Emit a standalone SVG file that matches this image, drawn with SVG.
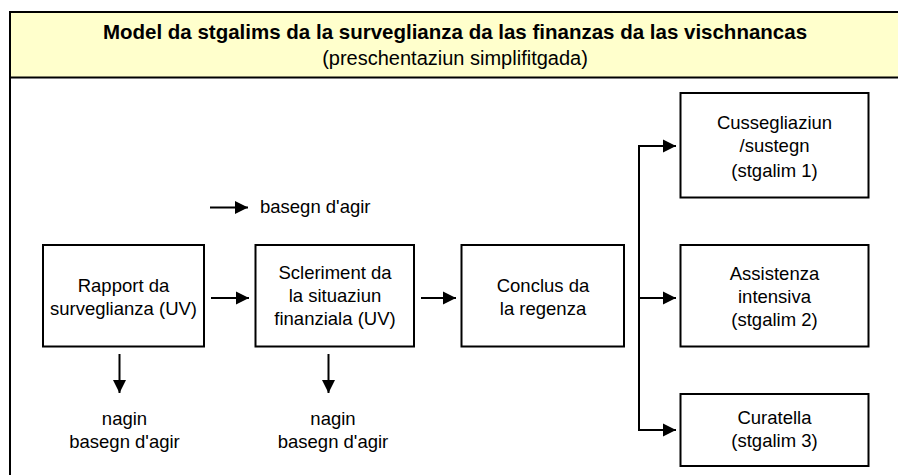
<svg xmlns="http://www.w3.org/2000/svg" width="898" height="475" viewBox="0 0 898 475">
<style>
.frame{fill:none;stroke:#000;stroke-width:2}
.hdr{fill:#FFFFCC;stroke:#000;stroke-width:2}
.box{fill:#fff;stroke:#000;stroke-width:2}
.t{font-family:"Liberation Sans",Arial,sans-serif;font-size:18.5px;fill:#000;text-anchor:middle}
.sub{font-family:"Liberation Sans",Arial,sans-serif;font-size:20px;fill:#000;text-anchor:middle}
.title{font-family:"Liberation Sans",Arial,sans-serif;font-size:20.5px;font-weight:bold;fill:#000;text-anchor:middle}
.c{fill:none;stroke:#000;stroke-width:2}
</style>
<defs>
<marker id="ah" markerUnits="userSpaceOnUse" markerWidth="14" markerHeight="14" viewBox="0 0 14 14" refX="13" refY="7" orient="auto">
<path d="M0,0.5 L13,7 L0,13.5 Z" fill="#000"/>
</marker>
</defs>
<rect width="898" height="475" fill="#fff"/>
<g id="frame">
<rect class="hdr" x="10" y="12" width="900" height="65.5"/>
<line class="frame" x1="10" y1="12" x2="10" y2="480"/>
<text class="title" x="455" y="39">Model da stgalims da la surveglianza da las finanzas da las vischnancas</text>
<text class="sub" x="455" y="65">(preschentaziun simplifitgada)</text>
</g>
<g id="connectors">
<line class="c" x1="210" y1="207.5" x2="248" y2="207.5" marker-end="url(#ah)"/>
<line class="c" x1="211" y1="298" x2="249" y2="298" marker-end="url(#ah)"/>
<line class="c" x1="421" y1="298" x2="456" y2="298" marker-end="url(#ah)"/>
<line class="c" x1="119.5" y1="354" x2="119.5" y2="393" marker-end="url(#ah)"/>
<line class="c" x1="328.5" y1="354" x2="328.5" y2="393" marker-end="url(#ah)"/>
<polyline class="c" points="675,146 639,146 639,430 675,430"/>
<line class="c" x1="639" y1="146" x2="676" y2="146" marker-end="url(#ah)"/>
<line class="c" x1="639" y1="298" x2="676" y2="298" marker-end="url(#ah)"/>
<line class="c" x1="639" y1="430" x2="676" y2="430" marker-end="url(#ah)"/>
</g>
<g id="legend">
<text class="t" x="260" y="213" style="text-anchor:start">basegn d'agir</text>
</g>
<g id="rapport">
<rect class="box" x="43" y="245" width="161" height="101.5"/>
<text class="t" x="123.5" y="292">Rapport da</text>
<text class="t" x="123.5" y="315">surveglianza (UV)</text>
</g>
<g id="scleriment">
<rect class="box" x="255.5" y="245" width="158.5" height="101.5"/>
<text class="t" x="335" y="279">Scleriment da</text>
<text class="t" x="335" y="302">la situaziun</text>
<text class="t" x="335" y="325">finanziala (UV)</text>
</g>
<g id="conclus">
<rect class="box" x="461.5" y="245" width="162.5" height="101.5"/>
<text class="t" x="543" y="292">Conclus da</text>
<text class="t" x="543" y="315">la regenza</text>
</g>
<g id="stgalim1">
<rect class="box" x="680.5" y="93" width="188" height="104.5"/>
<text class="t" x="774.5" y="129">Cussegliaziun</text>
<text class="t" x="774.5" y="152">/sustegn</text>
<text class="t" x="774.5" y="177">(stgalim 1)</text>
</g>
<g id="stgalim2">
<rect class="box" x="680.5" y="245" width="188" height="101.5"/>
<text class="t" x="774.5" y="280">Assistenza</text>
<text class="t" x="774.5" y="303">intensiva</text>
<text class="t" x="774.5" y="326">(stgalim 2)</text>
</g>
<g id="stgalim3">
<rect class="box" x="680.5" y="394" width="188" height="72"/>
<text class="t" x="774.5" y="424">Curatella</text>
<text class="t" x="774.5" y="447">(stgalim 3)</text>
</g>
<g id="nagin1">
<text class="t" x="124.5" y="425">nagin</text>
<text class="t" x="124.5" y="448">basegn d'agir</text>
</g>
<g id="nagin2">
<text class="t" x="333" y="425">nagin</text>
<text class="t" x="333" y="448">basegn d'agir</text>
</g>
</svg>
